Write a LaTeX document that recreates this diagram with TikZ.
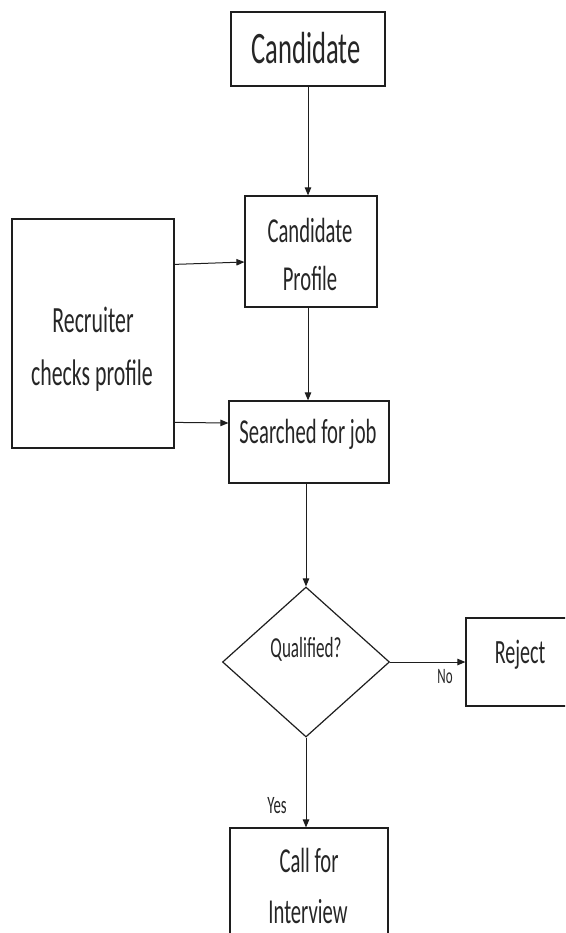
\documentclass[tikz,border=0pt]{standalone}
\usepackage{fontspec}
\setmainfont{Carlito}[FakeStretch=0.59]
\usetikzlibrary{arrows.meta,shapes.geometric}
\definecolor{linegray}{HTML}{1E1E1E}
\definecolor{textgray}{HTML}{262626}
\tikzset{
  boxnode/.style={draw=linegray, line width=1.2pt, rectangle, inner sep=0pt},
  arr/.style={draw=linegray, line width=1pt, -{Triangle[length=8pt,width=6.5pt]}},
  txt/.style={anchor=base, inner sep=0pt, text=textgray},
}
\newcommand{\fs}[1]{\fontsize{#1}{#1}\selectfont}
\begin{document}
\begin{tikzpicture}[x=1pt,y=-1pt]
\clip (0,0) rectangle (565,933);
\useasboundingbox (0,0) rectangle (565,933);
% boxes
\node[boxnode, minimum width=154pt, minimum height=74pt] (cand) at (308,49) {};
\node[boxnode, minimum width=132pt, minimum height=111pt] (prof) at (311,251.5) {};
\node[boxnode, minimum width=162pt, minimum height=229pt] (recr) at (93,333.5) {};
\node[boxnode, minimum width=160pt, minimum height=82pt] (srch) at (309,442) {};
\node[draw=linegray, line width=1.2pt, diamond, minimum width=167pt, minimum height=150pt, inner sep=0pt] (dia) at (306,662) {};
\node[boxnode, minimum width=114pt, minimum height=88pt] (rej) at (523,662) {};
\node[boxnode, minimum width=158pt, minimum height=122pt] (call) at (309,889) {};
% texts
\node[txt, font=\fs{45}] (tcand) at (306,64) {Candidate};
\node[txt, font=\fs{35}] (tprof1) at (310,243) {Candidate};
\node[txt, font=\fs{35}] (tprof2) at (310,290) {Profile};
\node[txt, font=\fs{37}] (trecr1) at (93,332) {Recruiter};
\node[txt, font=\fs{37}] (trecr2) at (92,385) {checks profile};
\node[txt, font=\fs{35}] (tsrch) at (308,443) {Searched for job};
\node[txt, font=\fs{29}] (tdia) at (306,657) {Qualified?};
\node[txt, font=\fs{34}] (trej) at (520,663) {Reject};
\node[txt, font=\fs{35}] (tcall1) at (309,872) {Call for};
\node[txt, font=\fs{35}] (tcall2) at (308,923) {Interview};
\node[txt, font=\fs{22}] (tno) at (445,683) {No};
\node[txt, font=\fs{25}] (tyes) at (277,813) {Yes};
% connectors
\draw[arr] (cand.south) -- (cand.south |- prof.north);
\draw[arr] ([yshift=-46pt]recr.north east) -- ([yshift=-10.5pt]prof.west);
\draw[arr] (prof.south -| cand.south) -- (srch.north -| cand.south);
\draw[arr] ([yshift=-204pt]recr.north east) -- ([yshift=19pt]srch.west);
\draw[arr] (srch.south -| dia.north) -- (dia.north);
\draw[arr] (dia.east) -- (rej.west);
\draw[arr] (dia.south) -- (dia.south |- call.north);
\end{tikzpicture}
\end{document}
